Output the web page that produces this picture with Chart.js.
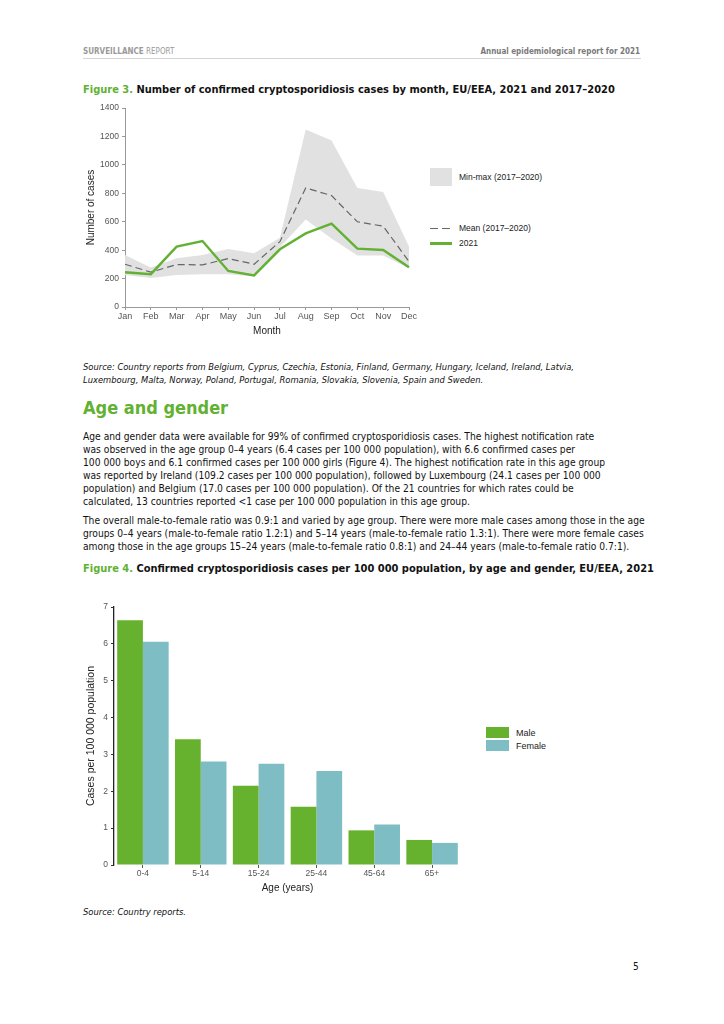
<!DOCTYPE html>
<html>
<head>
<meta charset="utf-8">
<script src="https://cdn.jsdelivr.net/npm/chart.js@4.4.1/dist/chart.umd.min.js"></script>
<style>
  body { margin: 0; background: #fff; }
  #page { position: relative; width: 724px; height: 1024px; overflow: hidden;
          font-family: 'DejaVu Sans Condensed', 'DejaVu Sans', sans-serif; font-stretch: condensed; color: #111; }
  .t { position: absolute; white-space: nowrap; }
  .green { color: #62b132; }
  .hdr { font-size: 8px; color: #9a9a9a; line-height: 10px; }
  .figtitle { font-size: 11px; font-weight: bold; line-height: 13px; }
  .src { font-size: 9.3px; font-style: italic; line-height: 13px; }
  .para { font-size: 10.2px; line-height: 13px; }
  .lg { font-family: 'Liberation Sans', Arial, sans-serif; font-size: 8.5px; color: #222; line-height: 10px; }
  .dash { position: absolute; height: 1.3px; background: #666; }
</style>
</head>
<body>
<div id="page">
  <div class="t hdr" style="left:83px; top:47px;"><b>SURVEILLANCE</b> REPORT</div>
  <div class="t hdr" style="right:84px; top:47px; font-weight:bold; color:#7a7a7a;">Annual epidemiological report for 2021</div>
  <div style="position:absolute; left:83px; top:58px; width:558px; height:1px; background:#d4d4d4;"></div>

  <div class="t figtitle" style="left:83px; top:82.5px;"><span class="green">Figure 3.</span> Number of confirmed cryptosporidiosis cases by month, EU/EEA, 2021 and 2017–2020</div>

  <div style="position:absolute; left:80px; top:100px; width:345px; height:240px;"><canvas id="chart1"></canvas></div>

  <div style="position:absolute; left:430px; top:168px; width:22px; height:18px; background:#e1e1e1;"></div>
  <div class="t lg" style="left:459px; top:172px;">Min-max (2017–2020)</div>
  <div class="dash" style="left:430px; top:227.5px; width:8px;"></div>
  <div class="dash" style="left:442px; top:227.5px; width:8px;"></div>
  <div class="t lg" style="left:459px; top:223px;">Mean (2017–2020)</div>
  <div style="position:absolute; left:430px; top:242px; width:22px; height:2.5px; background:#62b132;"></div>
  <div class="t lg" style="left:459px; top:238px;">2021</div>

  <div class="t src" style="left:83px; top:359.5px;">Source: Country reports from Belgium, Cyprus, Czechia, Estonia, Finland, Germany, Hungary, Iceland, Ireland, Latvia,<br>Luxembourg, Malta, Norway, Poland, Portugal, Romania, Slovakia, Slovenia, Spain and Sweden.</div>

  <div class="t green" style="left:83px; top:397px; font-size:18px; font-weight:bold; line-height:22px;">Age and gender</div>

  <div class="t para" style="left:83px; top:429.5px;">Age and gender data were available for 99% of confirmed cryptosporidiosis cases. The highest notification rate<br>was observed in the age group 0–4 years (6.4 cases per 100 000 population), with 6.6 confirmed cases per<br>100 000 boys and 6.1 confirmed cases per 100 000 girls (Figure 4). The highest notification rate in this age group<br>was reported by Ireland (109.2 cases per 100 000 population), followed by Luxembourg (24.1 cases per 100 000<br>population) and Belgium (17.0 cases per 100 000 population). Of the 21 countries for which rates could be<br>calculated, 13 countries reported &lt;1 case per 100 000 population in this age group.</div>

  <div class="t para" style="left:83px; top:513.5px;">The overall male-to-female ratio was 0.9:1 and varied by age group. There were more male cases among those in the age<br>groups 0–4 years (male-to-female ratio 1.2:1) and 5–14 years (male-to-female ratio 1.3:1). There were more female cases<br>among those in the age groups 15–24 years (male-to-female ratio 0.8:1) and 24–44 years (male-to-female ratio 0.7:1).</div>

  <div class="t figtitle" style="left:83px; top:561.5px;"><span class="green">Figure 4.</span> Confirmed cryptosporidiosis cases per 100 000 population, by age and gender, EU/EEA, 2021</div>

  <div style="position:absolute; left:80px; top:590px; width:400px; height:310px;"><canvas id="chart2"></canvas></div>

  <div style="position:absolute; left:486px; top:727px; width:23px; height:11px; background:#66b22e;"></div>
  <div class="t lg" style="left:516px; top:728px; font-size:9px;">Male</div>
  <div style="position:absolute; left:486px; top:740px; width:23px; height:11px; background:#7fbdc4;"></div>
  <div class="t lg" style="left:516px; top:741px; font-size:9px;">Female</div>

  <div class="t src" style="left:83px; top:904.5px;">Source: Country reports.</div>

  <div class="t" style="left:633px; top:961px; font-size:10px; line-height:12px;">5</div>
</div>

<script>
// Figure 3 - cases by month
const months = ['Jan', 'Feb', 'Mar', 'Apr', 'May', 'Jun', 'Jul', 'Aug', 'Sep', 'Oct', 'Nov', 'Dec'];
const cases2021 = [245, 231, 425, 464, 254, 222, 406, 518, 586, 411, 401, 280];
const mean1720 = [301, 245, 299, 296, 341, 301, 460, 838, 784, 600, 569, 320];
const max1720 = [366, 278, 343, 366, 408, 378, 488, 1249, 1172, 838, 810, 425];
const min1720 = [226, 205, 226, 231, 231, 215, 420, 616, 483, 362, 362, 273];

// Figure 4 - rate per 100 000 by age and gender
const ageGroups = ['0-4', '5-14', '15-24', '25-44', '45-64', '65+'];
const maleRate = [6.64, 3.41, 2.15, 1.58, 0.94, 0.68];
const femaleRate = [6.06, 2.81, 2.75, 2.55, 1.10, 0.60];

const titleFont = {family: 'Liberation Sans', size: 10};

const chart1 = new Chart('chart1', {
    type: 'line',
    data: {
        labels: months,
        datasets: [
            {label: '2021', data: cases2021, borderColor: '#62b132', borderWidth: 2.4, pointRadius: 0, fill: false, order: 0},
            {label: 'Mean (2017–2020)', data: mean1720, borderColor: '#666', borderWidth: 1.2, borderDash: [7, 4], pointRadius: 0, fill: false, order: 1},
            {label: 'Max', data: max1720, borderWidth: 0, borderColor: 'rgba(0,0,0,0)', backgroundColor: '#e1e1e1', pointRadius: 0, fill: '+1', order: 2},
            {label: 'Min', data: min1720, borderWidth: 0, borderColor: 'rgba(0,0,0,0)', pointRadius: 0, fill: false, order: 3}
        ]
    },
    options: {
        responsive: true,
        maintainAspectRatio: false,
        animation: false,
        layout: {padding: {top: 7, right: 16}},
        plugins: {legend: {display: false}, tooltip: {enabled: false}},
        scales: {
            x: {
                offset: false,
                grid: {display: true, drawOnChartArea: false, tickLength: 3, color: '#999'},
                border: {color: '#999'},
                ticks: {font: {family: 'Liberation Sans', size: 9}, color: '#555', padding: 1, maxRotation: 0},
                title: {display: true, text: 'Month', font: titleFont, color: '#222', padding: {top: 0, bottom: 3}},
                afterFit: (s) => { s.height = 33; }
            },
            y: {
                min: 0, max: 1400,
                grid: {display: true, drawOnChartArea: false, tickLength: 3, color: '#999'},
                border: {color: '#999'},
                ticks: {stepSize: 200, font: {family: 'Liberation Sans', size: 8.5}, color: '#555', padding: 3,
                        callback: (v) => String(v)},
                title: {display: true, text: 'Number of cases', font: titleFont, color: '#222', padding: {top: 5, bottom: 0}},
                afterFit: (s) => { s.width = 45; }
            }
        }
    }
});

const chart2 = new Chart('chart2', {
    type: 'bar',
    data: {
        labels: ageGroups,
        datasets: [
            {label: 'Male', data: maleRate, backgroundColor: '#66b22e', categoryPercentage: 0.89, barPercentage: 1.0},
            {label: 'Female', data: femaleRate, backgroundColor: '#7fbdc4', categoryPercentage: 0.89, barPercentage: 1.0}
        ]
    },
    options: {
        responsive: true,
        maintainAspectRatio: false,
        animation: false,
        layout: {padding: {top: 17, right: 19}},
        plugins: {legend: {display: false}, tooltip: {enabled: false}},
        scales: {
            x: {
                grid: {display: true, offset: false, drawOnChartArea: false, tickLength: 3, color: '#555'},
                border: {display: false},
                ticks: {font: {family: 'Liberation Sans', size: 8.5}, color: '#555', padding: 1},
                title: {display: true, text: 'Age (years)', font: titleFont, color: '#222', padding: {top: 0, bottom: 6}},
                afterFit: (s) => { s.height = 35; }
            },
            y: {
                min: 0, max: 7,
                grid: {display: true, drawOnChartArea: false, tickLength: 3, color: '#333'},
                border: {color: '#222', width: 1.3},
                ticks: {stepSize: 1, font: {family: 'Liberation Sans', size: 8.5}, color: '#555', padding: 3},
                title: {display: true, text: 'Cases per 100 000 population', font: {family: 'Liberation Sans', size: 10.5}, color: '#222', padding: {top: 5, bottom: 0}},
                afterFit: (s) => { s.width = 34; }
            }
        }
    }
});
</script>
</body>
</html>
